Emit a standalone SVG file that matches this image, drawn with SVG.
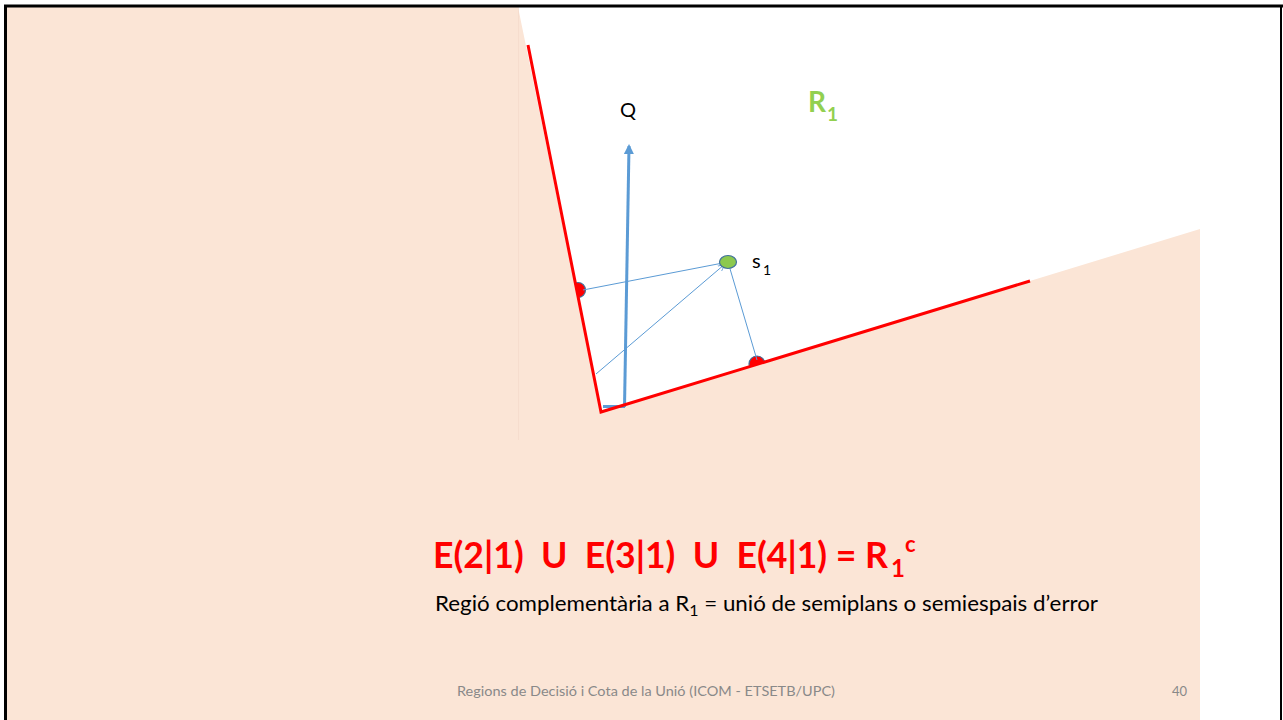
<svg xmlns="http://www.w3.org/2000/svg" width="1283" height="720" viewBox="0 0 1283 720">
<style>
.t{font-family:Lato,"Open Sans","Liberation Sans",sans-serif}
.red{stroke:#FF0000;stroke-width:3;fill:none;stroke-linecap:butt}
.thin{stroke:#5B9BD5;stroke-width:1;fill:none}
.dot{fill:#FF0000;stroke:#41719C;stroke-width:1.2}
.formula{fill:#FF0000;font-weight:bold}
</style>
<defs>
<marker id="ah" viewBox="0 0 10 10" refX="8" refY="5" markerWidth="11" markerHeight="10" markerUnits="userSpaceOnUse" orient="auto">
<path d="M0,0 L10,5 L0,10 Z" fill="#5B9BD5"/>
</marker>
<marker id="oa" viewBox="0 0 10 10" refX="9" refY="5" markerWidth="8" markerHeight="8" markerUnits="userSpaceOnUse" orient="auto">
<path d="M0,1 L9,5 L0,9" fill="none" stroke="#5B9BD5" stroke-width="1"/>
</marker>
</defs>
<rect x="0" y="0" width="1283" height="720" fill="#FFFFFF"/>
<g id="error-points">
<circle class="dot" cx="578" cy="290" r="7.5"/>
<circle class="dot" cx="757" cy="364" r="8"/>
</g>
<g id="error-region">
<polygon points="7,7 518,7 601,412 1200,229 1200,720 7,720" fill="#FBE5D6"/>
<line x1="518.5" y1="7" x2="518.5" y2="440" stroke="#F3D9CA" stroke-width="1" opacity="0.6"/>
</g>
<g id="connectors">
<line class="thin" x1="728" y1="262" x2="583" y2="290"/>
<line class="thin" x1="728" y1="262" x2="757" y2="360"/>
<line class="thin" x1="596" y1="374" x2="725" y2="264" marker-end="url(#oa)"/>
<line x1="603" y1="406.5" x2="625" y2="406.5" stroke="#5B9BD5" stroke-width="3"/>
<line x1="624.5" y1="407" x2="629" y2="146" stroke="#5B9BD5" stroke-width="3" marker-end="url(#ah)"/>
</g>
<g id="boundaries">
<polyline class="red" points="528,45 601,412 1030,281"/>
</g>
<g id="s1">
<ellipse cx="728" cy="262" rx="8.5" ry="6.5" fill="#8CC94E" stroke="#41719C" stroke-width="1.2"/>
<text class="t" x="752" y="268" font-size="20" fill="#000">s</text>
<text class="t" x="763" y="275" font-size="14" fill="#000">1</text>
</g>
<g id="Q-label">
<text class="t" x="628" y="117" font-size="20" fill="#000" text-anchor="middle">Q</text>
</g>
<g id="R1-label">
<text class="t" x="808" y="112" font-size="28" font-weight="bold" fill="#92D050">R</text>
<text class="t" x="827" y="121" font-size="19" font-weight="bold" fill="#92D050">1</text>
</g>
<g id="formula">
<text class="t formula" x="433" y="568" font-size="37" textLength="455" lengthAdjust="spacingAndGlyphs" xml:space="preserve">E(2|1)  U  E(3|1)  U  E(4|1) = R</text>
<text class="t formula" x="891" y="577" font-size="24">1</text>
<text class="t formula" x="905" y="552" font-size="22">c</text>
</g>
<g id="caption">
<text class="t" x="435" y="611" font-size="21" fill="#000" textLength="663" lengthAdjust="spacingAndGlyphs">Regió complementària a R<tspan font-size="15" dy="5">1</tspan><tspan dy="-5"> = unió de semiplans o semiespais d’error</tspan></text>
</g>
<g id="footer">
<text class="t" x="457" y="696" font-size="13" fill="#898989" textLength="378" lengthAdjust="spacingAndGlyphs">Regions de Decisió i Cota de la Unió (ICOM - ETSETB/UPC)</text>
<text class="t" x="1187" y="696" font-size="13" fill="#898989" text-anchor="end">40</text>
</g>
<g id="frame" fill="none" stroke="#000">
<line x1="4" y1="6" x2="1283" y2="6" stroke-width="3"/>
<line x1="5.5" y1="5" x2="5.5" y2="720" stroke-width="3"/>
<line x1="1281" y1="6" x2="1281" y2="720" stroke-width="2"/>
</g>
</svg>
